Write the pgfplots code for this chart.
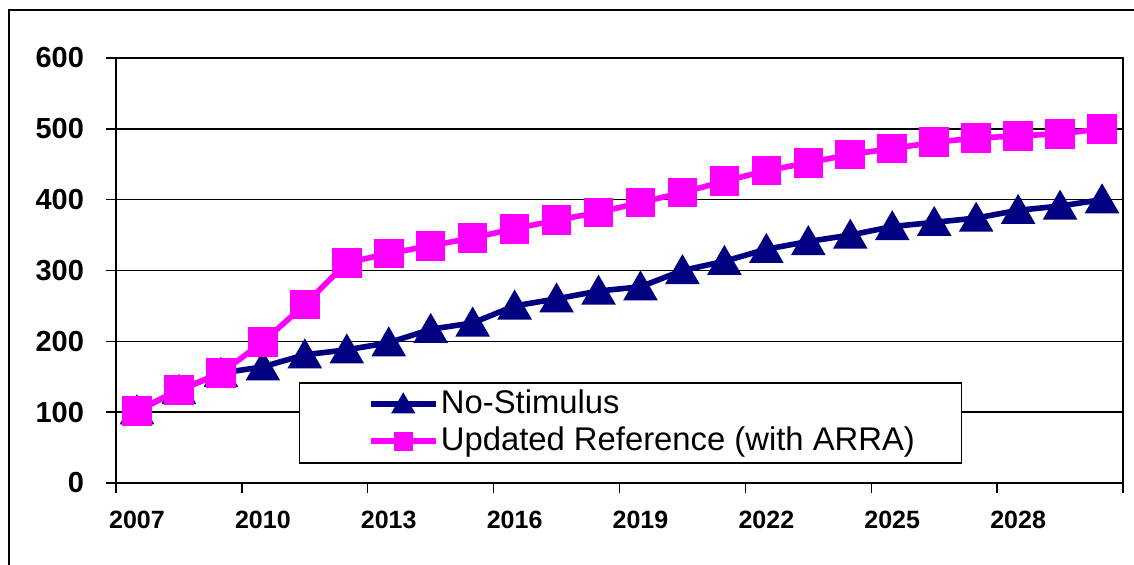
\documentclass[border=0pt]{standalone}
\usepackage{fontspec}
\setmainfont{Liberation Sans}
\usepackage{pgfplots}
\pgfplotsset{compat=1.18}
\definecolor{navyS}{RGB}{0,0,128}
\definecolor{magS}{RGB}{255,0,255}
\begin{document}
\begin{tikzpicture}
% outer chart frame (px -> 0.5pt, y flipped from 565)
\draw[line width=1pt] (4.5pt,-20pt) -- (4.5pt,277.5pt) -- (590pt,277.5pt);
\begin{axis}[
  at={(58pt,41pt)}, anchor=south west,
  scale only axis,
  width=503.5pt, height=212.5pt,
  xmin=2006.5, xmax=2030.5,
  ymin=0, ymax=600,
  xtick={2006.5,2009.5,...,2030.5},
  xticklabels={},
  extra x ticks={2007,2010,2013,2016,2019,2022,2025,2028},
  extra x tick labels={2007,2010,2013,2016,2019,2022,2025,2028},
  extra x tick style={major tick length=0pt, grid=none},
  ytick={0,100,...,600},
  xtick pos=bottom, ytick pos=left,
  tick align=outside,
  major tick length=5pt,
  tick style={black, line width=0.75pt},
  ymajorgrids,
  grid style={black, line width=0.75pt},
  axis line style={black, line width=1pt},
  xticklabel style={font=\fontsize{12.5pt}{14pt}\selectfont\bfseries, yshift=-10.5pt},
  yticklabel style={font=\fontsize{14.5pt}{16pt}\selectfont\bfseries, xshift=-7.5pt},
  /pgf/number format/assume math mode=true,
  /pgf/number format/1000 sep={},
  legend style={
    at={(0.1817,0.2376)}, anchor=north west,
    draw=black, line width=0.75pt, fill=white,
    font=\fontsize{16.4pt}{18pt}\selectfont,
    inner xsep=22pt, inner ysep=1.5pt,
    row sep=0pt,
    nodes={inner ysep=0.75pt, inner xsep=1.2pt, text height=13pt, text depth=4pt},
  },
  legend cell align=left,
]
\addplot[color=navyS, line width=2.8pt, mark=triangle*, mark size=7.2pt,
  mark options={yshift=-1.8pt, draw=navyS, fill=navyS},
  legend image code/.code={%
    \path[draw=none, fill=none] (-13.5pt,0pt) -- (0pt,0pt);
    \draw[line width=2.8pt] (0pt,0pt) -- (32.5pt,0pt);
    \path[fill=navyS] plot[mark=triangle*, mark size=4.2pt, mark options={yshift=-1pt}] coordinates {(16.25pt,0pt)};}]
coordinates {
(2007,102) (2008,131) (2009,155) (2010,164) (2011,181) (2012,188)
(2013,198) (2014,217) (2015,226) (2016,250) (2017,260) (2018,271)
(2019,277) (2020,300) (2021,313) (2022,330) (2023,341) (2024,350)
(2025,362) (2026,368) (2027,374) (2028,385) (2029,391) (2030,400)
};
\addlegendentry{No-Stimulus}
\addplot[color=magS, line width=2.8pt, mark=square*, mark size=6pt,
  legend image code/.code={%
    \path[draw=none, fill=none] (-13.5pt,0pt) -- (0pt,0pt);
    \draw[line width=2.8pt] (0pt,0pt) -- (32.5pt,0pt);
    \path[fill=magS] plot[mark=square*, mark size=3.3pt] coordinates {(16.25pt,0pt)};}]
coordinates {
(2007,102) (2008,131) (2009,155) (2010,199) (2011,252) (2012,311)
(2013,324) (2014,335) (2015,346) (2016,359) (2017,371) (2018,382)
(2019,396) (2020,410) (2021,426) (2022,441) (2023,452) (2024,464)
(2025,472) (2026,481) (2027,487) (2028,490) (2029,493) (2030,500)
};
\addlegendentry{Updated Reference (with ARRA)}
\end{axis}
\pgfresetboundingbox
\path[use as bounding box] (0pt,0pt) rectangle (567pt,282.5pt);
\end{tikzpicture}
\end{document}
